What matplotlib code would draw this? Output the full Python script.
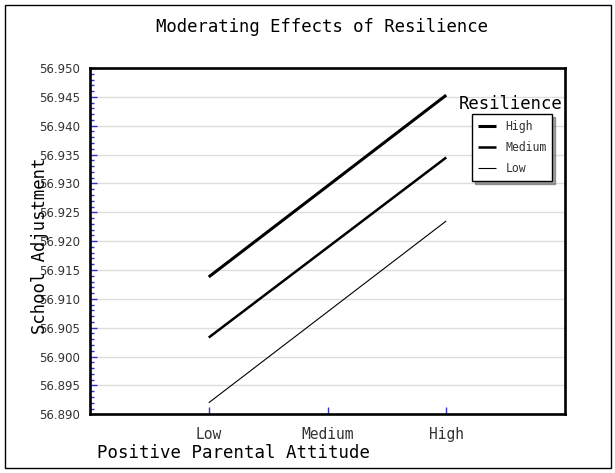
import matplotlib
matplotlib.use("Agg")
import matplotlib.pyplot as plt
from matplotlib.patches import Rectangle
from matplotlib.ticker import MultipleLocator, FormatStrFormatter

categories = ["Low", "Medium", "High"]
series_names = ["High", "Medium", "Low"]
high_vals = [56.9138, 56.92955, 56.9453]
medium_vals = [56.9033, 56.9189, 56.9345]
low_vals = [56.8920, 56.90775, 56.9235]
series_vals = [high_vals, medium_vals, low_vals]
widths = [2.2, 1.8, 0.8]

W, H = 615, 473
fig = plt.figure(figsize=(W / 100, H / 100), dpi=100)
fig.patch.set_facecolor("white")

ax = fig.add_axes([90 / W, 1 - 414.3 / H, (565 - 90) / W, (414.3 - 68) / H])
xs = [1, 2, 3]
for name, vals, lw in zip(series_names, series_vals, widths):
    ax.plot(xs, vals, color="black", lw=lw, label=name, solid_capstyle="butt")

ax.set_xlim(0, 4)
ax.set_ylim(56.890, 56.950)
ax.set_xticks(xs)
ax.set_xticklabels(categories, family="DejaVu Sans Mono", fontsize=10.5, color="#333333")
ax.yaxis.set_major_locator(MultipleLocator(0.005))
ax.yaxis.set_minor_locator(MultipleLocator(0.001))
ax.yaxis.set_major_formatter(FormatStrFormatter("%.3f"))
for lab in ax.get_yticklabels():
    lab.set_family("DejaVu Sans")
    lab.set_fontsize(8.5)
    lab.set_color("#333333")
ax.tick_params(axis="both", which="major", direction="in", color="#3333cc", length=5, width=1)
ax.tick_params(axis="y", which="minor", direction="in", color="#3333cc", length=3, width=1)
ax.tick_params(axis="y", which="major", pad=7)
ax.tick_params(axis="x", which="major", pad=9)
ax.grid(axis="y", which="major", color="#dddddd", lw=1)
ax.set_axisbelow(True)
for s in ax.spines.values():
    s.set_linewidth(1.9)
    s.set_color("black")

leg = ax.legend(loc="upper left", bbox_to_anchor=((472 - 90) / 475, (414.3 - 114) / 346.3),
                frameon=True, fancybox=False, shadow=True, prop={"family": "DejaVu Sans Mono", "size": 8.3},
                handlelength=1.6, borderpad=0.5, labelspacing=0.72, handletextpad=0.8, borderaxespad=0)
leg.get_frame().set_edgecolor("black")
leg.get_frame().set_linewidth(1)
for t in leg.get_texts():
    t.set_color("#333333")

fig.text(322 / W, 1 - 27 / H, "Moderating Effects of Resilience", family="DejaVu Sans Mono",
         fontsize=12.4, ha="center", va="center")
fig.text(97 / W, 1 - 453 / H, "Positive Parental Attitude", family="DejaVu Sans Mono",
         fontsize=12.5, ha="left", va="center")
fig.text(40 / W, 1 - 246 / H, "School Adjustment", family="DejaVu Sans Mono",
         fontsize=12.4, ha="center", va="center", rotation=90)
fig.text(459 / W, 1 - 104 / H, "Resilience", family="DejaVu Sans Mono",
         fontsize=12.4, ha="left", va="center")

fig.patches.append(Rectangle((5 / W, 1 - 468 / H), (611 - 5) / W, (468 - 5) / H,
                             transform=fig.transFigure, fill=False, edgecolor="black", lw=1))

fig.savefig("out.png", dpi=100)
